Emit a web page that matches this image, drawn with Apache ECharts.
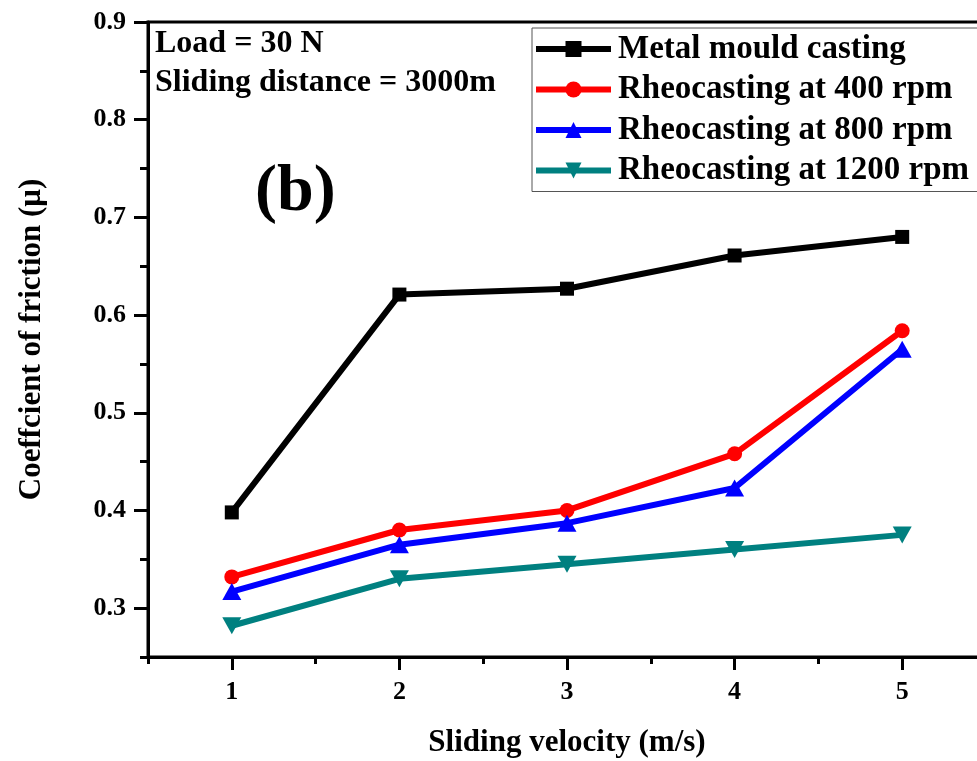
<!DOCTYPE html>
<html>
<head>
<meta charset="utf-8">
<script src="https://cdn.jsdelivr.net/npm/echarts@6/dist/echarts.min.js"></script>
<style>html,body{margin:0;padding:0;background:#fff;}#c{width:977px;height:761px;}</style>
</head>
<body>
<div id="c"></div>
<script>
const velocity = [1, 2, 3, 4, 5];
const metalMould = [0.398, 0.621, 0.627, 0.661, 0.680];
const rheo400 = [0.332, 0.380, 0.400, 0.458, 0.584];
const rheo800 = [0.317, 0.365, 0.387, 0.423, 0.565];
const rheo1200 = [0.282, 0.330, 0.345, 0.360, 0.375];
const seriesNames = ['Metal mould casting', 'Rheocasting at 400 rpm', 'Rheocasting at 800 rpm', 'Rheocasting at 1200 rpm'];
const xMajor = [1, 2, 3, 4, 5];
const xMinor = [0.5, 1.5, 2.5, 3.5, 4.5, 5.5];
const yMajor = [0.3, 0.4, 0.5, 0.6, 0.7, 0.8, 0.9];
const yMinor = [0.25, 0.35, 0.45, 0.55, 0.65, 0.75, 0.85];

const FONT = '"Liberation Serif", "Times New Roman", serif';
const pairs = arr => velocity.map((v, i) => [v, arr[i]]);

const chart = echarts.init(document.getElementById('c'), null, {renderer: 'canvas'});
const mk = (name, data, color, symbol, size, rot) => ({
  name, type: 'line', data: pairs(data), xAxisIndex: 0, yAxisIndex: 0,
  symbol, symbolSize: size, symbolRotate: rot || 0, showSymbol: true,
  lineStyle: {color, width: 6}, itemStyle: {color, borderWidth: 0},
  emphasis: {disabled: true}, z: 3
});
chart.setOption({
  animation: false,
  backgroundColor: '#fff',
  grid: {left: 148, top: 22, width: 838, height: 635, outerBoundsMode: 'none', containLabel: false,
         show: true, borderColor: '#000', borderWidth: 3, backgroundColor: 'transparent'},
  legend: {
    orient: 'vertical', left: 532, top: 28,
    padding: [4, 40, 4, 1],
    itemWidth: 75, itemHeight: 20, itemGap: 6.5,
    borderColor: '#555', borderWidth: 1,
    lineStyle: {width: 6},
    textStyle: {fontFamily: FONT, fontWeight: 'bold', fontSize: 33, color: '#000', lineHeight: 34, padding: [0,0,0,2]},
    data: seriesNames
  },
  xAxis: [
    {type: 'value', min: 0.5, max: 5.5, position: 'bottom',
     name: 'Sliding velocity (m/s)', nameLocation: 'middle', nameGap: 70,
     nameTextStyle: {fontFamily: FONT, fontWeight: 'bold', fontSize: 31, color: '#000'},
     axisLine: {show: true, onZero: false, lineStyle: {color: '#000', width: 3}},
     axisTick: {show: true, inside: false, length: 13, lineStyle: {color: '#000', width: 3}, customValues: xMajor},
     axisLabel: {show: true, margin: 22, customValues: xMajor, formatter: v => String(v),
       fontFamily: FONT, fontWeight: 'bold', fontSize: 26, color: '#000'},
     splitLine: {show: false}},
    {type: 'value', min: 0.5, max: 5.5, position: 'bottom',
     axisLine: {show: false, onZero: false},
     axisTick: {show: true, length: 7, lineStyle: {color: '#000', width: 3}, customValues: xMinor},
     axisLabel: {show: false}, splitLine: {show: false}}
  ],
  yAxis: [
    {type: 'value', min: 0.25, max: 0.9, position: 'left',
     name: 'Coeffcient of friction (\u03bc)', nameLocation: 'middle', nameGap: 101,
     nameTextStyle: {fontFamily: FONT, fontWeight: 'bold', fontSize: 31, color: '#000'},
     axisLine: {show: true, onZero: false, lineStyle: {color: '#000', width: 3}},
     axisTick: {show: true, length: 14, lineStyle: {color: '#000', width: 3}, customValues: yMajor},
     axisLabel: {show: true, margin: 22, customValues: yMajor, formatter: v => v.toFixed(1),
       fontFamily: FONT, fontWeight: 'bold', fontSize: 26, color: '#000'},
     splitLine: {show: false}},
    {type: 'value', min: 0.25, max: 0.9, position: 'left',
     axisLine: {show: false, onZero: false},
     axisTick: {show: true, length: 8, lineStyle: {color: '#000', width: 3}, customValues: yMinor},
     axisLabel: {show: false}, splitLine: {show: false}}
  ],
  graphic: [
    {type: 'text', left: 155, top: 28, style: {text: 'Load = 30 N', font: 'bold 32px ' + FONT, fill: '#000'}},
    {type: 'text', left: 155, top: 67, style: {text: 'Sliding distance = 3000m', font: 'bold 32px ' + FONT, fill: '#000'}},
    {type: 'text', left: 255, top: 160, style: {text: '(b)', font: 'bold 66px ' + FONT, fill: '#000'}}
  ],
  series: [
    mk(seriesNames[0], metalMould, '#000000', 'rect', 14),
    mk(seriesNames[1], rheo400, '#ff0000', 'circle', 15),
    mk(seriesNames[2], rheo800, '#0000ff', 'triangle', [19, 17]),
    mk(seriesNames[3], rheo1200, '#008080', 'triangle', [19, 17], 180)
  ]
});
</script>
</body>
</html>
